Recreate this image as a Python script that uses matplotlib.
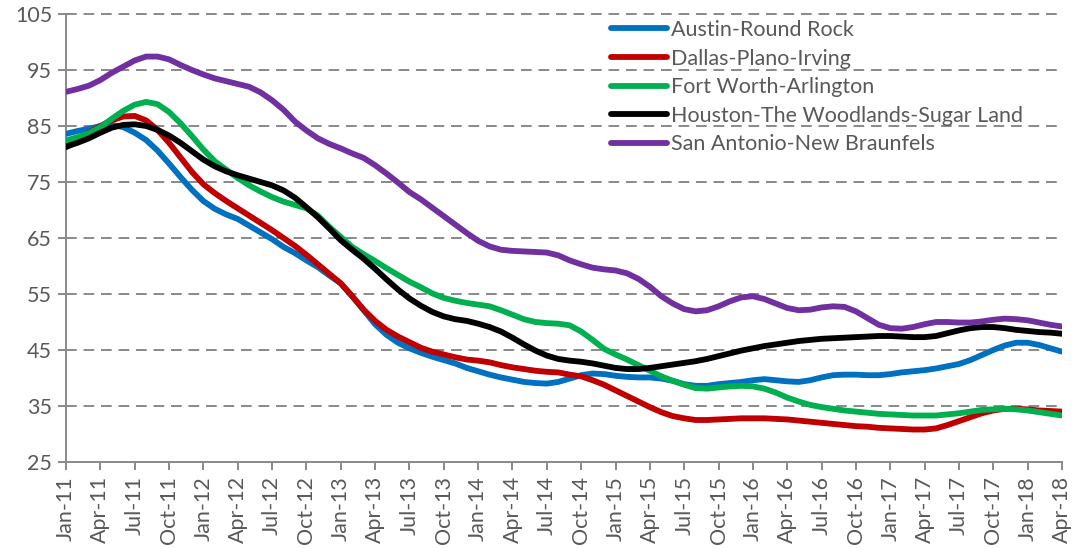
import numpy as np
import matplotlib
matplotlib.use("Agg")
import matplotlib.pyplot as plt

# Monthly index from Jan-11 to Apr-18 (88 months)
months = [f"{m}-{y:02d}" for y in range(11, 19)
          for m in ["Jan", "Feb", "Mar", "Apr", "May", "Jun", "Jul", "Aug", "Sep", "Oct", "Nov", "Dec"]][:88]
tick_labels = months[::3]

austin = [83.6, 84.1, 84.5, 85.0, 85.2, 84.8, 83.8, 82.5, 80.6, 78.3,
          75.9, 73.6, 71.6, 70.2, 69.2, 68.4, 67.2, 66.0, 64.8, 63.4,
          62.3, 61.0, 59.8, 58.3, 56.9, 54.6, 52.1, 49.6, 47.7, 46.3,
          45.3, 44.5, 43.8, 43.2, 42.6, 41.8, 41.2, 40.6, 40.1, 39.7,
          39.3, 39.1, 39.0, 39.3, 39.9, 40.5, 40.8, 40.7, 40.4, 40.2,
          40.1, 40.1, 39.9, 39.5, 38.9, 38.6, 38.6, 38.9, 39.1, 39.3,
          39.6, 39.8, 39.6, 39.4, 39.3, 39.6, 40.1, 40.5, 40.6, 40.6,
          40.5, 40.5, 40.7, 41.0, 41.2, 41.4, 41.7, 42.1, 42.5, 43.2,
          44.1, 45.0, 45.8, 46.3, 46.3, 45.9, 45.3, 44.7]

dallas = [81.2, 82.5, 83.8, 85.0, 86.0, 86.7, 86.8, 86.0, 84.3, 82.0,
          79.4, 76.8, 74.6, 73.0, 71.6, 70.3, 69.0, 67.7, 66.4, 65.0,
          63.6, 62.0, 60.3, 58.6, 56.9, 54.6, 52.2, 50.2, 48.6, 47.4,
          46.4, 45.4, 44.7, 44.2, 43.7, 43.3, 43.1, 42.8, 42.3, 41.9,
          41.6, 41.3, 41.1, 41.0, 40.6, 40.3, 39.6, 38.8, 37.8, 36.8,
          35.8, 34.8, 33.9, 33.2, 32.8, 32.5, 32.5, 32.6, 32.7, 32.8,
          32.8, 32.8, 32.7, 32.6, 32.4, 32.2, 32.0, 31.8, 31.6, 31.4,
          31.3, 31.1, 31.0, 30.9, 30.8, 30.8, 31.0, 31.6, 32.3, 33.0,
          33.7, 34.2, 34.5, 34.5, 34.4, 34.2, 34.1, 34.0]

fort_worth = [82.4, 83.0, 83.7, 84.8, 86.3, 87.7, 88.8, 89.3, 88.9, 87.5,
              85.5, 83.2, 80.8, 78.7, 77.2, 75.7, 74.4, 73.3, 72.3, 71.5,
              70.9, 70.3, 69.0, 67.0, 65.2, 63.4, 62.1, 60.9, 59.6, 58.4,
              57.2, 56.2, 55.1, 54.3, 53.8, 53.4, 53.1, 52.8, 52.1, 51.3,
              50.5, 50.0, 49.8, 49.7, 49.4, 48.3, 46.8, 45.2, 44.2, 43.3,
              42.3, 41.3, 40.3, 39.5, 38.8, 38.2, 38.1, 38.3, 38.5, 38.6,
              38.5, 38.1, 37.4, 36.5, 35.8, 35.2, 34.8, 34.5, 34.2, 34.0,
              33.8, 33.6, 33.5, 33.4, 33.3, 33.3, 33.3, 33.5, 33.7, 34.0,
              34.3, 34.4, 34.5, 34.4, 34.2, 33.9, 33.6, 33.3]

houston = [81.3, 82.0, 82.8, 83.8, 84.7, 85.2, 85.3, 85.0, 84.3, 83.3,
           82.0, 80.5, 79.0, 77.8, 76.9, 76.2, 75.6, 75.0, 74.4, 73.5,
           72.2, 70.5, 68.7, 66.7, 64.6, 62.9, 61.3, 59.5, 57.6, 55.8,
           54.2, 52.9, 51.8, 51.0, 50.5, 50.2, 49.7, 49.1, 48.3, 47.2,
           46.0, 44.9, 44.0, 43.4, 43.1, 42.9, 42.6, 42.2, 41.8, 41.6,
           41.6, 41.8, 42.1, 42.4, 42.7, 43.0, 43.4, 43.9, 44.4, 44.9,
           45.3, 45.7, 46.0, 46.3, 46.6, 46.8, 47.0, 47.1, 47.2, 47.3,
           47.4, 47.5, 47.5, 47.4, 47.3, 47.3, 47.5, 48.0, 48.5, 48.9,
           49.1, 49.1, 48.9, 48.6, 48.4, 48.2, 48.1, 47.9]

san_antonio = [91.1, 91.6, 92.2, 93.2, 94.5, 95.6, 96.7, 97.4, 97.4, 96.9,
               95.9, 95.0, 94.2, 93.5, 93.0, 92.5, 92.0, 91.0, 89.6, 87.9,
               85.8, 84.2, 82.8, 81.8, 81.0, 80.1, 79.3, 78.0, 76.5, 74.9,
               73.2, 71.9, 70.4, 68.9, 67.4, 65.9, 64.5, 63.5, 62.9, 62.7,
               62.6, 62.5, 62.4, 61.9, 61.0, 60.3, 59.7, 59.4, 59.2, 58.7,
               57.7, 56.3, 54.6, 53.3, 52.3, 51.9, 52.1, 52.8, 53.7, 54.4,
               54.6, 54.1, 53.3, 52.5, 52.1, 52.2, 52.6, 52.8, 52.7, 51.9,
               50.7, 49.5, 48.9, 48.8, 49.1, 49.6, 50.0, 50.0, 49.9, 49.9,
               50.1, 50.4, 50.6, 50.5, 50.3, 49.9, 49.5, 49.2]

series_names = ["Austin-Round Rock", "Dallas-Plano-Irving", "Fort Worth-Arlington",
                "Houston-The Woodlands-Sugar Land", "San Antonio-New Braunfels"]
series_values = [austin, dallas, fort_worth, houston, san_antonio]
series_colors = ["#0070C0", "#C00000", "#00B050", "#000000", "#7030A0"]

y_ticks = [25, 35, 45, 55, 65, 75, 85, 95, 105]

plt.rcParams['font.family'] = ['Lato', 'DejaVu Sans']
text_color = "#595959"
axis_color = "#898989"
fs = 15.5

fig = plt.figure(figsize=(10.81, 5.48), dpi=100)
ax = fig.add_axes([66/1081, 1 - 462/548, (1062 - 66)/1081, (462 - 14)/548])

x = np.arange(len(months))
for name, vals, col in zip(series_names, series_values, series_colors):
    ax.plot(x, vals, color=col, lw=4.2, label=name,
            solid_joinstyle='round', solid_capstyle='round', zorder=3)

ax.set_xlim(0, len(months) - 1)
ax.set_ylim(y_ticks[0], y_ticks[-1])
ax.set_yticks(y_ticks)
ax.set_yticklabels([str(t) for t in y_ticks])
ax.set_xticks(x[::3])
ax.set_xticklabels(tick_labels, rotation=90)

for t in y_ticks[1:]:
    ax.axhline(t, color=axis_color, lw=1.4, ls=(0, (5.5, 3.5)), zorder=1, clip_on=False)

for s in ["top", "right"]:
    ax.spines[s].set_visible(False)
for s in ["left", "bottom"]:
    ax.spines[s].set_color(axis_color)
    ax.spines[s].set_linewidth(1.4)
ax.tick_params(axis='both', colors=axis_color, length=6, width=1.4, direction='out',
               labelcolor=text_color, labelsize=fs)
ax.tick_params(axis='x', pad=4)
ax.tick_params(axis='y', pad=4)

leg = ax.legend(loc='upper left', bbox_to_anchor=(611/1081, 1 - 20/548),
                bbox_transform=fig.transFigure, frameon=False, fontsize=fs,
                handlelength=2.6, handletextpad=0.2, labelspacing=0.4,
                borderpad=0, borderaxespad=0)
for t in leg.get_texts():
    t.set_color(text_color)

fig.savefig("out.png", dpi=100)
